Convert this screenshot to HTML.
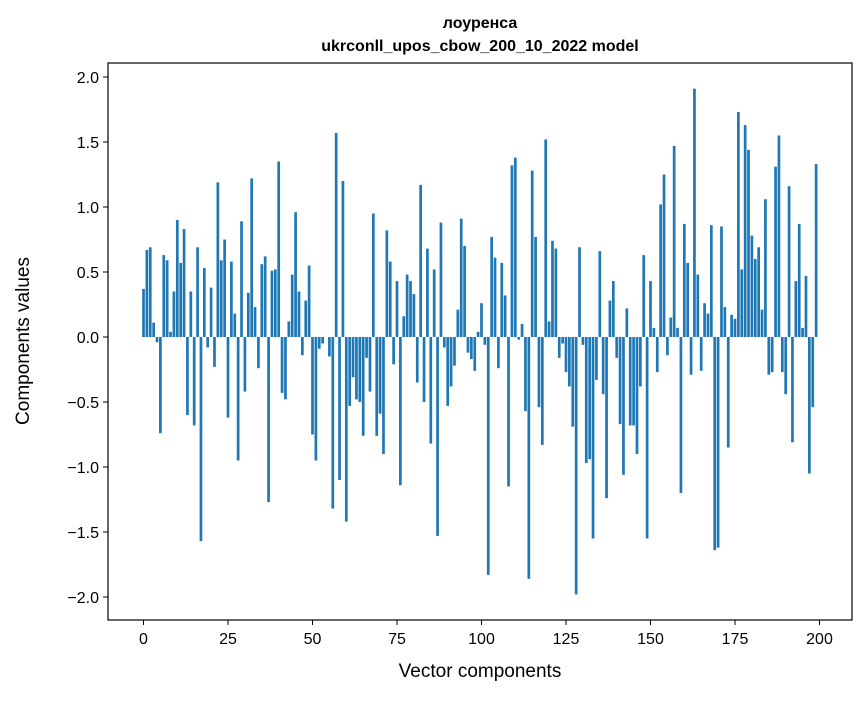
<!DOCTYPE html>
<html><head><meta charset="utf-8"><style>
body{margin:0;background:#fff;}
svg text{font-family:"Liberation Sans","DejaVu Sans",sans-serif;fill:#000;}
</style></head><body>
<svg id="chart" width="867" height="696" xmlns="http://www.w3.org/2000/svg">
<rect width="867" height="696" fill="#fff"/>
<text x="480" y="28" text-anchor="middle" font-size="16" font-weight="bold">лоуренса</text>
<text x="480" y="51" text-anchor="middle" font-size="16" font-weight="bold">ukrconll_upos_cbow_200_10_2022 model</text>
<g id="bars"></g>
<g id="axes"></g>
<text x="480" y="677" text-anchor="middle" font-size="19">Vector components</text>
<text transform="translate(29,341) rotate(-90)" text-anchor="middle" font-size="19">Components values</text>
</svg>
<script>
const values=[0.37,0.67,0.69,0.11,-0.04,-0.74,0.63,0.59,0.04,0.35,0.90,0.57,0.83,-0.60,0.35,-0.68,0.69,-1.57,0.53,-0.08,
0.38,-0.23,1.19,0.59,0.75,-0.62,0.58,0.18,-0.95,0.89,-0.42,0.34,1.22,0.23,-0.24,0.56,0.62,-1.27,0.51,0.52,
1.35,-0.43,-0.48,0.12,0.48,0.96,0.35,-0.14,0.28,0.55,-0.75,-0.95,-0.09,-0.05,0.0,-0.15,-1.32,1.57,-1.10,1.20,
-1.42,-0.53,-0.31,-0.48,-0.50,-0.76,-0.16,-0.42,0.95,-0.76,-0.59,-0.90,0.82,0.58,-0.21,0.43,-1.14,0.16,0.48,0.43,
0.33,-0.35,1.17,-0.50,0.68,-0.82,0.52,-1.53,0.88,-0.08,-0.53,-0.38,-0.22,0.21,0.91,0.70,-0.12,-0.17,-0.26,0.04,
0.26,-0.06,-1.83,0.77,0.61,-0.24,0.57,0.32,-1.15,1.32,1.38,-0.02,0.10,-0.57,-1.86,1.28,0.77,-0.54,-0.83,1.52,
0.12,0.74,0.68,-0.16,-0.05,-0.27,-0.38,-0.69,-1.98,0.69,-0.06,-0.97,-0.94,-1.55,-0.33,0.66,-0.44,-1.24,0.28,0.43,
-0.16,-0.67,-1.06,0.22,-0.68,-0.68,-0.90,-0.38,0.63,-1.55,0.43,0.07,-0.27,1.02,1.25,-0.14,0.15,1.47,0.07,-1.20,
0.87,0.57,-0.29,1.91,0.48,-0.26,0.26,0.18,0.86,-1.64,-1.62,0.85,0.23,-0.85,0.17,0.14,1.73,0.52,1.63,1.44,
0.78,0.60,0.69,0.21,1.06,-0.29,-0.27,1.31,1.55,-0.27,-0.44,1.16,-0.81,0.43,0.87,0.07,0.47,-1.05,-0.54,1.33];
const xTicks=[0,25,50,75,100,125,150,175,200];
const yTicks=[-2.0,-1.5,-1.0,-0.5,0.0,0.5,1.0,1.5,2.0];
const NS='http://www.w3.org/2000/svg';
const L=108,R=852,T=63,B=620;
function xs(v){return 143.5+v*(819.5-143.5)/200;}
function ys(v){return 337-v*130;}
const bars=document.getElementById('bars');
values.forEach((v,i)=>{
 const r=document.createElementNS(NS,'rect');
 
 
 const w=0.8*(819.5-143.5)/200;
 r.setAttribute('x',xs(i)-w/2);r.setAttribute('width',w);
 r.setAttribute('y',Math.min(ys(v),ys(0)));r.setAttribute('height',Math.abs(ys(v)-ys(0)));
 r.setAttribute('fill','#1f77b4');bars.appendChild(r);
});
const ax=document.getElementById('axes');
const fr=document.createElementNS(NS,'rect');


fr.setAttribute('x',L);fr.setAttribute('y',T);fr.setAttribute('width',R-L);fr.setAttribute('height',B-T);
fr.setAttribute('fill','none');fr.setAttribute('stroke','#000');fr.setAttribute('stroke-width','1.2');ax.appendChild(fr);
xTicks.forEach(t=>{
 const l=document.createElementNS(NS,'line');
 
 
 l.setAttribute('x1',xs(t));l.setAttribute('x2',xs(t));l.setAttribute('y1',B);l.setAttribute('y2',B+5);l.setAttribute('stroke','#000');ax.appendChild(l);
 const tx=document.createElementNS(NS,'text');
 
 
 tx.setAttribute('x',xs(t));tx.setAttribute('y',B+24);tx.setAttribute('text-anchor','middle');tx.setAttribute('font-size','16');tx.textContent=t;ax.appendChild(tx);
});
yTicks.forEach(t=>{
 const l=document.createElementNS(NS,'line');
 
 
 l.setAttribute('x1',L-5);l.setAttribute('x2',L);l.setAttribute('y1',ys(t));l.setAttribute('y2',ys(t));l.setAttribute('stroke','#000');ax.appendChild(l);
 const tx=document.createElementNS(NS,'text');
 
 
 tx.setAttribute('x',L-9);tx.setAttribute('y',ys(t)+6);tx.setAttribute('text-anchor','end');tx.setAttribute('font-size','16');
 tx.textContent=(t<0?'\u2212':'')+Math.abs(t).toFixed(1);ax.appendChild(tx);
});
</script>
</body></html>
